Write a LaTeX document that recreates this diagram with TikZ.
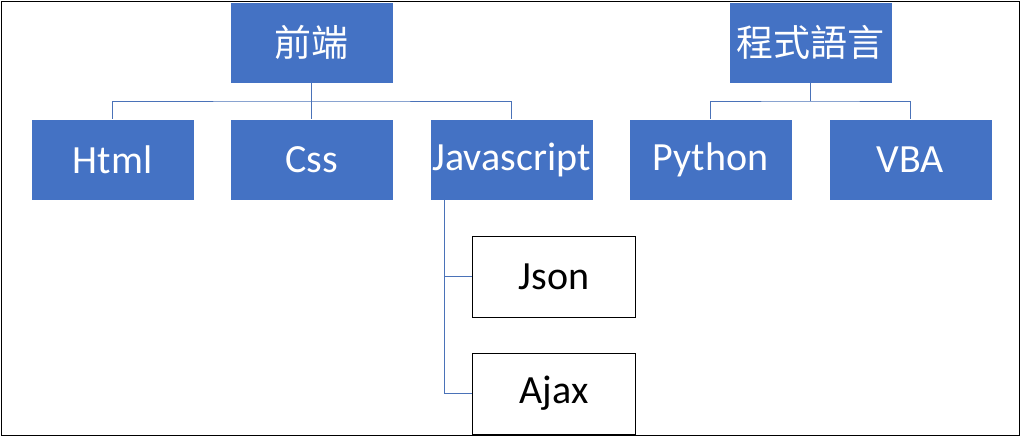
\documentclass[tikz,border=0pt]{standalone}
\usepackage{fontspec}
\setmainfont{Carlito}
\newfontfamily\cjk{Noto Sans CJK TC}
\definecolor{boxblue}{HTML}{4472C4}
\definecolor{linkblue}{HTML}{4A72B8}
\tikzset{
  bluebox/.style={fill=boxblue, draw=white, line width=0.6pt, text=white,
    minimum width=163pt, minimum height=81pt, inner sep=0pt,
    font=\fontsize{40}{44}\selectfont},
  cjkbox/.style={bluebox, font=\cjk\fontsize{37}{42}\selectfont},
  whitebox/.style={fill=white, draw=black, line width=1pt, text=black,
    minimum width=163pt, minimum height=81pt, inner sep=0pt,
    font=\fontsize{40}{44}\selectfont},
  conn/.style={draw=linkblue, line width=1pt}
}
\begin{document}
\begin{tikzpicture}[x=1pt,y=-1pt]
\useasboundingbox (0,0) rectangle (1024,440);
\fill[white] (0,0) rectangle (1024,440);
\begin{scope}
\clip (2,2) rectangle (1019,435);
\node[cjkbox] (fe) at (311.5,42.5) {前端};
\node[bluebox] (html) at (112.5,159.5) {Html};
\node[bluebox] (css) at (311.5,159.5) {Css};
\node[bluebox] (js) at (511.5,159.5) {Javascript};
\node[cjkbox] (pl) at (810.5,42.5) {程式語言};
\node[bluebox] (py) at (710.5,159.5) {Python};
\node[bluebox] (vba) at (910.5,159.5) {VBA};
\node[whitebox] (json) at (554,276.5) {Json};
\node[whitebox] (ajax) at (554,393.5) {Ajax};
\coordinate (fej) at (311.5,101);
\coordinate (plj) at (810.5,101);
\draw[conn] (fe.south) -- (fej);
\draw[conn] (html.north) |- (fej) -| (js.north);
\draw[conn] (fej) -- (css.north);
\draw[conn] (pl.south) -- (plj);
\draw[conn] (py.north) |- (plj) -| (vba.north);
\draw[conn] ([xshift=15pt]js.south west) |- (ajax.west);
\draw[conn] (json.west) -| ([xshift=15pt]js.south west);
\end{scope}
\draw[black, line width=1.5pt] (1.5,1.5) rectangle (1019.5,435.5);
\end{tikzpicture}
\end{document}
